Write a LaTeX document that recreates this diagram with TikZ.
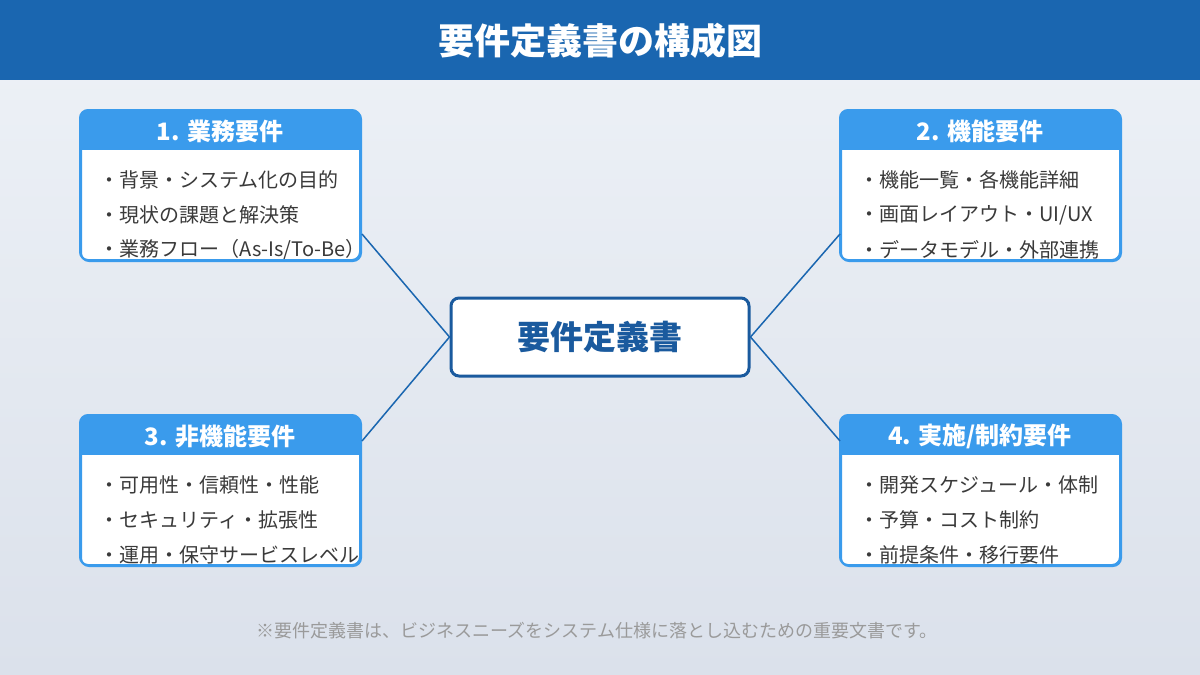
\documentclass[tikz,border=0pt]{standalone}
\usepackage{fontspec}
\setmainfont{Noto Sans CJK JP}
\usetikzlibrary{positioning}
\definecolor{headblue}{HTML}{1A66B0}
\definecolor{boxblue}{HTML}{3A9BEC}
\definecolor{darkblue}{HTML}{1A5A9E}
\definecolor{bodytext}{HTML}{3A3A3A}
\definecolor{notegray}{HTML}{9A9A9A}
\tikzset{
  box/.style = {draw = boxblue, line width = 2pt, rounded corners = 8pt, fill = white,
    minimum width = 280pt, minimum height = 150pt, inner sep = 0pt},
  boxhead/.style = {font = \fontsize{24}{24}\selectfont\bfseries, text = white},
  item/.style = {font = \fontsize{20}{20}\selectfont, text = bodytext, anchor = west},
  link/.style = {draw = headblue, line width = 1.5pt}
}
% one card: name, left x, top y, title, three items
\newcommand\reqcard[7]{%
  \node [box, anchor = north west] (#1) at (#2,#3) {};
  \begin{scope}
    \clip [rounded corners = 8pt] (#2,#3) rectangle ++(280,150);
    \fill [boxblue] (#2,#3) rectangle ++(280,40);
    \node [item] (#1a) at (#2+16,#3+70) {・#5};
    \node [item] (#1b) at (#2+16,#3+105) {・#6};
    \node [item] (#1c) at (#2+16,#3+140) {・#7};
  \end{scope}
  \draw [boxblue, line width = 2pt, rounded corners = 8pt] (#2,#3) rectangle ++(280,150);
  \node [boxhead] (#1t) at (#2+140,#3+21) {#4};
}
\begin{document}
\begin{tikzpicture}[x = 1pt, y = -1pt]
\useasboundingbox (0,0) rectangle (1200,675);
\shade [top color = {rgb,255:red,238;green,242;blue,247}, bottom color = {rgb,255:red,219;green,225;blue,235}] (0,0) rectangle (1200,675);
\fill [headblue] (0,0) rectangle (1200,80);
\node [font = \fontsize{36}{36}\selectfont\bfseries, text = white] (title) at (600,41) {要件定義書の構成図};

\reqcard{biz}{80}{110}{1. 業務要件}{背景・システム化の目的}{現状の課題と解決策}{業務フロー（As-Is/To-Be）}
\reqcard{func}{840}{110}{2. 機能要件}{機能一覧・各機能詳細}{画面レイアウト・UI/UX}{データモデル・外部連携}
\reqcard{nonfunc}{80}{415}{3. 非機能要件}{可用性・信頼性・性能}{セキュリティ・拡張性}{運用・保守サービスレベル}
\reqcard{impl}{840}{415}{4. 実施/制約要件}{開発スケジュール・体制}{予算・コスト制約}{前提条件・移行要件}

\node [draw = darkblue, line width = 3pt, rounded corners = 8pt, fill = white, minimum width = 298pt, minimum height = 78pt, text = darkblue, font = \fontsize{33}{33}\selectfont\bfseries] (core) at (600,337) {要件定義書};

\draw [link] (biz.east) ++(0,48) -- (core.west);
\draw [link] (func.west) ++(0,48) -- (core.east);
\draw [link] (nonfunc.east) ++(0,-50) -- (core.west);
\draw [link] (impl.west) ++(0,-50) -- (core.east);

\node [font = \fontsize{18}{18}\selectfont, text = notegray] (note) at (597,631) {※要件定義書は、ビジネスニーズをシステム仕様に落とし込むための重要文書です。};
\end{tikzpicture}
\end{document}
